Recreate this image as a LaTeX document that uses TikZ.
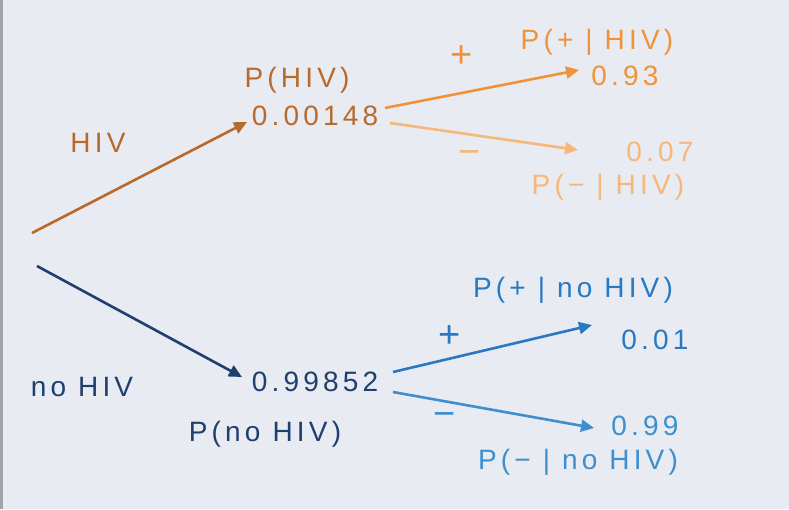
\documentclass[tikz,border=0pt]{standalone}
\usepackage{fontspec}
\setmainfont{Liberation Sans}[LetterSpace=15]
\usetikzlibrary{arrows.meta}
\definecolor{bg}{RGB}{232,235,241}
\definecolor{edge}{RGB}{160,162,168}
\definecolor{hbrown}{RGB}{184,106,44}
\definecolor{horange}{RGB}{240,146,58}
\definecolor{hlorange}{RGB}{246,184,122}
\definecolor{hnavy}{RGB}{31,63,110}
\definecolor{hblue}{RGB}{39,121,196}
\definecolor{hlblue}{RGB}{61,143,207}
\begin{document}
\begin{tikzpicture}[x=1pt,y=-1pt,
  lbl/.style={font=\fontsize{28}{32}\selectfont, inner sep=2pt},
  sgn/.style={font=\fontsize{38}{40}\selectfont, inner sep=1pt},
  arr/.style={line width=2.6pt, -{Triangle[length=13pt,width=12pt]}}]
\fill[bg] (0,0) rectangle (789,509);
\fill[edge] (0,0) rectangle (2.5,509);
\useasboundingbox (0,0) rectangle (789,509);
% nodes
\node[lbl, text=hbrown] (hiv) at (98,143) {HIV};
\node[lbl, text=hbrown] (phiv) at (297,80) {P(HIV)};
\node[lbl, text=hbrown] (n1) at (315,116) {0.00148};
\node[sgn, text=horange] (plus1) at (462,57) {+};
\node[lbl, text=horange] (ppos1) at (597,42) {P(+ | HIV)};
\node[lbl, text=horange] (v93) at (625,76) {0.93};
\node[sgn, text=hlorange] (minus1) at (470,157) {−};
\node[lbl, text=hlorange] (v07) at (660,152) {0.07};
\node[lbl, text=hlorange] (pneg1) at (608,187) {P(− | HIV)};
\node[lbl, text=hnavy] (nohiv) at (82,387) {no HIV};
\node[lbl, text=hnavy] (n2) at (315,382) {0.99852};
\node[lbl, text=hnavy] (pno) at (265,434) {P(no HIV)};
\node[lbl, text=hblue] (ppos2) at (573,290) {P(+ | no HIV)};
\node[sgn, text=hblue] (plus2) at (450,337) {+};
\node[lbl, text=hblue] (v01) at (655,340) {0.01};
\node[sgn, text=hlblue] (minus2) at (445,419) {−};
\node[lbl, text=hlblue] (v99) at (645,426) {0.99};
\node[lbl, text=hlblue] (pneg2) at (578,462) {P(− | no HIV)};
% connector ends
\coordinate (rootA) at (32,233);
\coordinate (rootB) at (37,266);
\coordinate (tA) at (247,122);
\coordinate (tB) at (242,377);
\coordinate (sA1) at (385,108);
\coordinate (eA1) at (579,70);
\coordinate (sA2) at (390,123);
\coordinate (eA2) at (578,150);
\coordinate (sB1) at (393,372);
\coordinate (eB1) at (592,325);
\coordinate (sB2) at (393,392);
\coordinate (eB2) at (594,428);
% connectors
\draw[arr, hbrown] (rootA) -- (tA);
\draw[arr, hnavy] (rootB) -- (tB);
\draw[arr, horange] (sA1) -- (eA1);
\draw[arr, hlorange] (sA2) -- (eA2);
\draw[arr, hblue] (sB1) -- (eB1);
\draw[arr, hlblue] (sB2) -- (eB2);
\end{tikzpicture}
\end{document}
